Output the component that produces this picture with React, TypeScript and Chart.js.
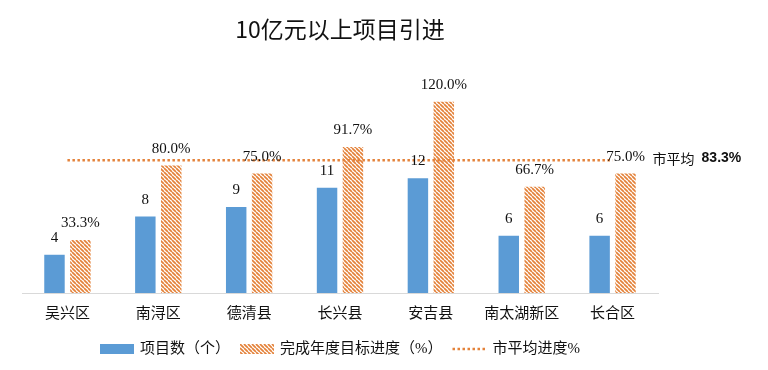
import React, { useEffect, useRef } from "react";
import { Chart, registerables } from "chart.js";

Chart.register(...registerables);

const chartTitle = "10亿元以上项目引进";
const categories = ["吴兴区", "南浔区", "德清县", "长兴县", "安吉县", "南太湖新区", "长合区"];
const projectCounts = [4, 8, 9, 11, 12, 6, 6];
const progressPct = [33.3, 80.0, 75.0, 91.7, 120.0, 66.7, 75.0];
const cityAverageLine = [83.3, 83.3, 83.3, 83.3, 83.3, 83.3, 83.3];
const cityAverageLabel = "市平均";
const cityAverageValue = "83.3%";
const seriesNames = ["项目数（个）", "完成年度目标进度（%）", "市平均进度%"];
const countAxisMax = 25;
const pctAxisMax = 150;

const BLUE = "#5B9BD5";
const ORANGE = "#E4823A";
const SERIF = '"Liberation Serif", "Noto Sans CJK SC", serif';
const CJK = '"Noto Sans CJK SC", "Liberation Sans", sans-serif';

function makeHatch(color: string): CanvasPattern | string {
  const size = 4;
  const c = document.createElement("canvas");
  c.width = size;
  c.height = size;
  const g = c.getContext("2d");
  if (!g) return color;
  g.fillStyle = "#ffffff";
  g.fillRect(0, 0, size, size);
  g.strokeStyle = color;
  g.lineWidth = 1.7;
  for (const o of [-size, 0, size]) {
    g.beginPath();
    g.moveTo(o, 0);
    g.lineTo(o + size, size);
    g.stroke();
  }
  return g.createPattern(c, "repeat") || color;
}

export default function App() {
  const ref = useRef<HTMLCanvasElement | null>(null);

  useEffect(() => {
    const canvas = ref.current;
    if (!canvas) return;
    const hatch = makeHatch(ORANGE);

    const decor = {
      id: "decor",
      afterDatasetsDraw(chart: any) {
        const ctx = chart.ctx as CanvasRenderingContext2D;
        const area = chart.chartArea;
        ctx.save();
        // value labels
        ctx.fillStyle = "#111";
        ctx.textAlign = "center";
        ctx.textBaseline = "alphabetic";
        ctx.font = `15px ${SERIF}`;
        const m0 = chart.getDatasetMeta(0);
        m0.data.forEach((el: any, i: number) => {
          ctx.fillText(String(projectCounts[i]), el.x, el.y - 13);
        });
        const m1 = chart.getDatasetMeta(1);
        m1.data.forEach((el: any, i: number) => {
          ctx.fillText(progressPct[i].toFixed(1) + "%", el.x, el.y - 13);
        });
        // average annotation
        const m2 = chart.getDatasetMeta(2);
        const last = m2.data[m2.data.length - 1];
        ctx.textAlign = "left";
        ctx.textBaseline = "middle";
        ctx.font = `14px ${CJK}`;
        const ax = last.x + 40;
        ctx.fillText(cityAverageLabel, ax, last.y - 2);
        const w = ctx.measureText(cityAverageLabel).width;
        ctx.font = `bold 14px "Liberation Sans", sans-serif`;
        ctx.fillText(cityAverageValue, ax + w + 7, last.y - 2);

        // title
        const cx = (area.left + area.right) / 2;
        ctx.textAlign = "center";
        ctx.font = `23px ${CJK}`;
        ctx.fillStyle = "#111";
        ctx.fillText(chartTitle, cx, 29);

        // legend
        ctx.font = `15px ${SERIF}`;
        const sw = 34;
        const gapIn = 6;
        const gapOut = 10;
        const widths = seriesNames.map((t) => ctx.measureText(t).width);
        const total = widths.reduce((a, b) => a + b, 0) + 3 * (sw + gapIn) + 2 * gapOut;
        let x = cx - total / 2;
        const ly = 349;
        ctx.textAlign = "left";
        ctx.textBaseline = "middle";
        for (let i = 0; i < 3; i++) {
          if (i === 0) {
            ctx.fillStyle = BLUE;
            ctx.fillRect(x, ly - 5, sw, 10);
          } else if (i === 1) {
            ctx.fillStyle = hatch as any;
            ctx.fillRect(x, ly - 5, sw, 10);
          } else {
            ctx.strokeStyle = ORANGE;
            ctx.lineWidth = 2.5;
            ctx.setLineDash([2.5, 2.5]);
            ctx.beginPath();
            ctx.moveTo(x, ly);
            ctx.lineTo(x + sw, ly);
            ctx.stroke();
            ctx.setLineDash([]);
          }
          x += sw + gapIn;
          ctx.fillStyle = "#111";
          ctx.fillText(seriesNames[i], x, ly);
          x += widths[i] + gapOut;
        }
        ctx.restore();
      },
    };

    const chart = new Chart(canvas, {
      type: "bar",
      data: {
        labels: categories,
        datasets: [
          {
            type: "bar",
            label: seriesNames[0],
            data: projectCounts,
            backgroundColor: BLUE,
            yAxisID: "y",
            order: 1,
            categoryPercentage: 0.57,
            barPercentage: 0.79,
          },
          {
            type: "bar",
            label: seriesNames[1],
            data: progressPct,
            backgroundColor: hatch as any,
            yAxisID: "y1",
            order: 1,
            categoryPercentage: 0.57,
            barPercentage: 0.79,
          },
          {
            type: "line",
            label: seriesNames[2],
            data: cityAverageLine,
            yAxisID: "y1",
            borderColor: ORANGE,
            borderWidth: 2.5,
            borderDash: [2.5, 2.5],
            pointRadius: 0,
            fill: false,
            order: 0,
          },
        ],
      } as any,
      options: {
        animation: false,
        responsive: false,
        devicePixelRatio: 1,
        layout: { padding: { left: 22, right: 110, top: 54, bottom: 43 } },
        plugins: {
          legend: { display: false },
          title: { display: false },
          tooltip: { enabled: false },
        },
        scales: {
          x: {
            grid: { display: false },
            border: { display: true, color: "#D9D9D9" },
            ticks: { color: "#111", font: { size: 15, family: SERIF }, padding: 4 },
          },
          y: { display: false, min: 0, max: countAxisMax },
          y1: { display: false, min: 0, max: pctAxisMax },
        },
      } as any,
      plugins: [decor],
    });
    return () => chart.destroy();
  }, []);

  return (
    <div style={{ position: "absolute", left: 0, top: 0, width: 768, height: 370, background: "#fff" }}>
      <canvas ref={ref} width={768} height={370} />
    </div>
  );
}
